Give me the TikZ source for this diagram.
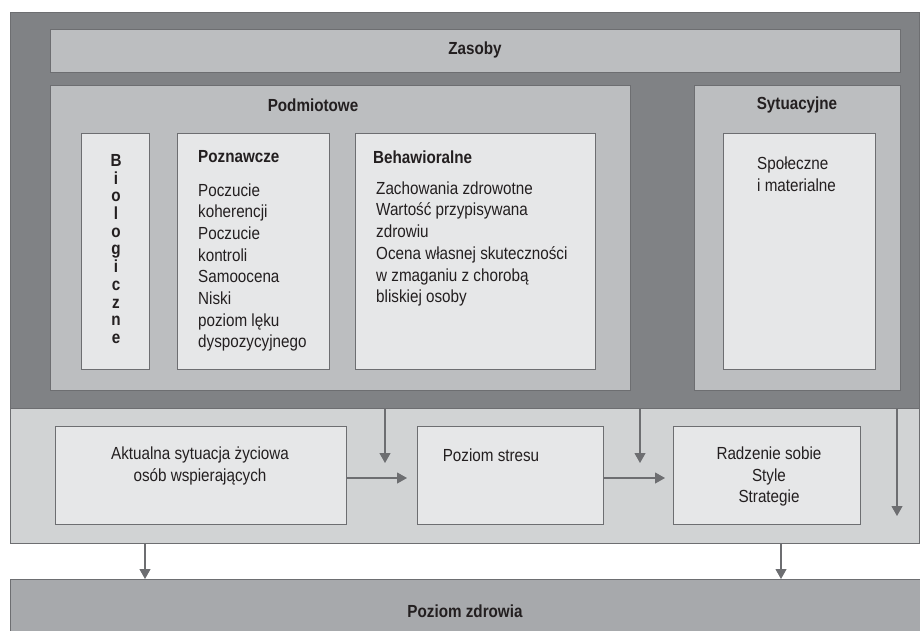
\documentclass[tikz,border=0pt]{standalone}
\usepackage{fontspec}
\setmainfont{Liberation Sans}[FakeStretch=0.87]
\usetikzlibrary{arrows.meta}
\definecolor{cdark}{HTML}{808285}
\definecolor{cmid}{HTML}{BCBEC0}
\definecolor{clight}{HTML}{E6E7E8}
\definecolor{cband}{HTML}{D1D3D4}
\definecolor{cbar}{HTML}{A7A9AC}
\definecolor{cline}{HTML}{6D6E71}
\definecolor{ctext}{HTML}{231F20}
\tikzset{
  panel/.style={draw=cline, line width=0.9pt, inner sep=0pt, outer sep=0pt, anchor=north west},
  txt/.style={text=ctext, inner sep=0pt, font=\fontsize{17.5}{21.7}\selectfont},
  hdr/.style={text=ctext, inner sep=0pt, font=\fontsize{17.5}{21.7}\selectfont\bfseries},
  arr/.style={draw=cline, line width=1.1pt, -{Triangle[width=11pt,length=10pt]}}
}
\begin{document}
\begin{tikzpicture}[x=1pt,y=-1pt]
\useasboundingbox (0,0) rectangle (920,630);
% outer panels
\node[panel, fill=cdark, minimum width=909pt, minimum height=396pt] (outer) at (10,12) {};
\node[panel, fill=cband, minimum width=909pt, minimum height=135pt] (band) at (10,408) {};
\node[panel, fill=cbar, minimum width=910pt, minimum height=60pt] (health) at (10,579) {};
% resources
\node[panel, fill=cmid, minimum width=850pt, minimum height=43pt] (zasoby) at (50,29) {};
\node[panel, fill=cmid, minimum width=580pt, minimum height=305pt] (podm) at (50,85) {};
\node[panel, fill=cmid, minimum width=206pt, minimum height=305pt] (syt) at (694,85) {};
\node[panel, fill=clight, minimum width=68pt, minimum height=236pt] (bio) at (81,133) {};
\node[panel, fill=clight, minimum width=152pt, minimum height=236pt] (pozn) at (177,133) {};
\node[panel, fill=clight, minimum width=240pt, minimum height=236pt] (beh) at (355,133) {};
\node[panel, fill=clight, minimum width=152pt, minimum height=236pt] (spol) at (723,133) {};
% process boxes
\node[panel, fill=clight, minimum width=291pt, minimum height=98pt] (akt) at (55,426) {};
\node[panel, fill=clight, minimum width=186pt, minimum height=98pt] (stres) at (417,426) {};
\node[panel, fill=clight, minimum width=187pt, minimum height=98pt] (radz) at (673,426) {};
% texts
\node[hdr] (tzas) at (475,50) {Zasoby};
\node[hdr] (tpodm) at (313,105) {Podmiotowe};
\node[hdr] (tsyt) at (797,105) {Sytuacyjne};
\node[hdr, align=center, font=\fontsize{17.5}{17.7}\selectfont\bfseries] (tbio) at (116,249)
  {B\\i\\o\\l\\o\\g\\i\\c\\z\\n\\e};
\node[hdr, anchor=west] (tpozn) at (198,157) {Poznawcze};
\node[txt, anchor=west, align=left] (tpoznb) at (198,267.5)
  {Poczucie\\koherencji\\Poczucie\\kontroli\\Samoocena\\Niski\\poziom lęku\\dyspozycyjnego};
\node[hdr, anchor=west] (tbeh) at (373,157) {Behawioralne};
\node[txt, anchor=west, align=left] (tbehb) at (376,244)
  {Zachowania zdrowotne\\Wartość przypisywana\\zdrowiu\\Ocena własnej skuteczności\\w zmaganiu z chorobą\\bliskiej osoby};
\node[txt, anchor=west, align=left] (tspol) at (757,174) {Społeczne\\i materialne};
\node[txt, align=center] (takt) at (200,466) {Aktualna sytuacja życiowa\\osób wspierających};
\node[txt] (tstres) at (491,455) {Poziom stresu};
\node[txt, align=center] (tradz) at (769,476.5) {Radzenie sobie\\Style\\Strategie};
\node[hdr] (thealth) at (465,611) {Poziom zdrowia};
% arrow anchors
\coordinate (d1s) at (385,408); \coordinate (d1e) at (385,463);
\coordinate (d2s) at (640,408); \coordinate (d2e) at (640,463);
\coordinate (d3s) at (897,408); \coordinate (d3e) at (897,516);
% arrows
\draw[arr] (d1s) -- (d1e);
\draw[arr] (d2s) -- (d2e);
\draw[arr] (d3s) -- (d3e);
\draw[arr, shorten >=10pt] (akt.east |- 0,478) -- (stres.west |- 0,478);
\draw[arr, shorten >=8pt] (stres.east |- 0,478) -- (radz.west |- 0,478);
\draw[arr] (band.south -| 145,0) -- (health.north -| 145,0);
\draw[arr] (band.south -| 781,0) -- (health.north -| 781,0);
\end{tikzpicture}
\end{document}
